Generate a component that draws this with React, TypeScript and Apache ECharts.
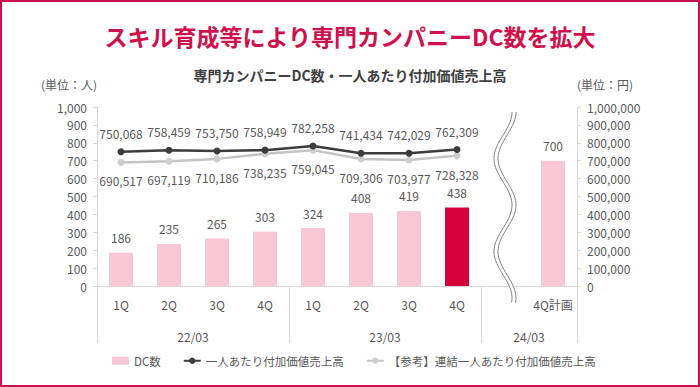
import React, { useEffect, useRef } from 'react';
import * as echarts from 'echarts';

const quarters = ['1Q', '2Q', '3Q', '4Q', '1Q', '2Q', '3Q', '4Q', '', '4Q計画'];
const fiscalYears = ['', '', '22/03', '', '', '', '23/03', '', '', '24/03', ''];
const fyBoundaries = [0, 4, 8, 10];
const dcCount: (number | null)[] = [186, 235, 265, 303, 324, 408, 419, 438, null, 700];
const highlightIndex = 7;
const breakIndex = 8;
const salesPerPerson: (number | null)[] = [750068, 758459, 753750, 758949, 782258, 741434, 742029, 762309, null, null];
const consolidatedSales: (number | null)[] = [690517, 697119, 710186, 738235, 759045, 709306, 703977, 728328, null, null];
const leftMax = 1000;
const leftInterval = 100;
const rightMax = 1000000;
const rightInterval = 100000;

const FONT = '"Noto Sans CJK JP", "Noto Sans", sans-serif';
const TXT = '#595959';
const AXIS = '#D9D9D9';
const CRIMSON = '#D0104C';

const fmt = (v: number) => v.toLocaleString('en-US');

export default function App() {
  const ref = useRef<HTMLDivElement>(null);
  useEffect(() => {
    if (!ref.current) return;
    const chart = echarts.init(ref.current, undefined, { renderer: 'svg' });
    const option: any = {
      animation: false,
      backgroundColor: '#ffffff',
      textStyle: { fontFamily: FONT },
      title: [
        {
          text: 'スキル育成等により専門カンパニーDC数を拡大',
          left: 'center',
          top: 24,
          padding: 0,
          textStyle: { color: CRIMSON, fontSize: 23, fontWeight: 'bold', fontFamily: FONT },
        },
        {
          text: '専門カンパニーDC数・一人あたり付加価値売上高',
          left: 'center',
          top: 68,
          padding: 0,
          textStyle: { color: '#404040', fontSize: 14, fontWeight: 'bold', fontFamily: FONT },
        },
      ],
      graphic: [
        {
          type: 'rect',
          shape: { x: 1, y: 1, width: 698, height: 385 },
          style: { fill: 'none', stroke: '#C8104F', lineWidth: 2 },
          silent: true,
          z: 100,
        },
      ],
      legend: {
        left: 107,
        top: 350,
        itemWidth: 17,
        itemHeight: 8,
        itemGap: 22,
        textStyle: { color: TXT, fontSize: 11.5, fontFamily: FONT },
        data: [
          { name: 'DC数', icon: 'rect' },
          { name: '一人あたり付加価値売上高' },
          { name: '【参考】連結一人あたり付加価値売上高' },
        ],
      },
      grid: { left: 97, right: 123, top: 107, bottom: 101, containLabel: false },
      xAxis: [
        {
          type: 'category',
          data: quarters,
          position: 'bottom',
          axisLine: { show: true, lineStyle: { color: AXIS } },
          axisTick: { show: false },
          axisLabel: { interval: 0, color: TXT, fontSize: 12, margin: 12, fontFamily: FONT },
        },
        {
          type: 'category',
          data: fiscalYears,
          boundaryGap: false,
          position: 'bottom',
          offset: 0,
          axisLine: { show: false },
          axisTick: {
            show: true,
            length: 57,
            interval: (i: number) => fyBoundaries.includes(i),
            lineStyle: { color: AXIS },
          },
          axisLabel: { interval: 0, color: TXT, fontSize: 12, margin: 44, fontFamily: FONT },
        },
      ],
      yAxis: [
        {
          type: 'value',
          min: 0,
          max: leftMax,
          interval: leftInterval,
          name: '(単位：人)',
          nameLocation: 'end',
          nameGap: 17,
          nameTextStyle: { color: TXT, fontSize: 12, align: 'right', fontFamily: FONT },
          axisLine: { show: true, lineStyle: { color: AXIS } },
          axisTick: { show: true, length: 4, lineStyle: { color: AXIS } },
          splitLine: { show: false },
          axisLabel: { color: TXT, fontSize: 12, margin: 10, formatter: (v: number) => fmt(v), fontFamily: FONT },
        },
        {
          type: 'value',
          min: 0,
          max: rightMax,
          interval: rightInterval,
          position: 'right',
          name: '(単位：円)',
          nameLocation: 'end',
          nameGap: 17,
          nameTextStyle: { color: TXT, fontSize: 12, align: 'left', fontFamily: FONT },
          axisLine: { show: true, lineStyle: { color: AXIS } },
          axisTick: { show: true, length: 4, lineStyle: { color: AXIS } },
          splitLine: { show: false },
          axisLabel: { color: TXT, fontSize: 12, margin: 10, formatter: (v: number) => fmt(v), fontFamily: FONT },
        },
      ],
      series: [
        {
          name: 'DC数',
          type: 'bar',
          xAxisIndex: 0,
          yAxisIndex: 0,
          barWidth: 24,
          itemStyle: { color: '#F9C8D6' },
          label: { show: true, position: 'top', distance: 9, color: TXT, fontSize: 12, fontFamily: FONT },
          data: dcCount.map((v, i) =>
            v === null ? '-' : i === highlightIndex ? { value: v, itemStyle: { color: '#D5003B' } } : v
          ),
          z: 2,
        },
        {
          name: '【参考】連結一人あたり付加価値売上高',
          type: 'line',
          xAxisIndex: 0,
          yAxisIndex: 1,
          data: consolidatedSales.map((v) => (v === null ? '-' : v)),
          symbol: 'circle',
          symbolSize: 7,
          lineStyle: { color: '#C4C4C4', width: 2.5 },
          itemStyle: { color: '#CFCFCF' },
          label: {
            show: true,
            position: 'bottom',
            distance: 9,
            color: TXT,
            fontSize: 12,
            fontFamily: FONT,
            formatter: (p: any) => fmt(p.value),
          },
          z: 3,
        },
        {
          name: '一人あたり付加価値売上高',
          type: 'line',
          xAxisIndex: 0,
          yAxisIndex: 1,
          data: salesPerPerson.map((v) => (v === null ? '-' : v)),
          symbol: 'circle',
          symbolSize: 7,
          lineStyle: { color: '#3C3C3C', width: 2.5 },
          itemStyle: { color: '#3C3C3C' },
          label: {
            show: true,
            position: 'top',
            distance: 9,
            color: TXT,
            fontSize: 12,
            fontFamily: FONT,
            formatter: (p: any) => fmt(p.value),
          },
          z: 4,
        },
        {
          name: 'break',
          type: 'custom',
          xAxisIndex: 0,
          yAxisIndex: 0,
          clip: false,
          silent: true,
          z: 5,
          data: [[breakIndex, 0]],
          encode: { x: 0, y: 1 },
          renderItem: (params: any, api: any) => {
            const base = api.coord([api.value(0), 0]);
            const cx = base[0];
            const y0 = base[1];
            const top = y0 - 174;
            const bottom = y0 + 17;
            const p1: number[][] = [];
            const p2: number[][] = [];
            for (let y = top; y <= bottom + 0.01; y += 1.5) {
              const x = cx + 9 * Math.cos((2 * Math.PI * (y - top)) / 93);
              p1.push([x - 2, y]);
              p2.push([x + 2, y]);
            }
            return {
              type: 'group',
              children: [
                {
                  type: 'polygon',
                  shape: { points: p1.concat(p2.slice().reverse()) },
                  style: { fill: '#ffffff', stroke: 'none' },
                },
                {
                  type: 'polyline',
                  shape: { points: p1 },
                  style: { stroke: '#808080', lineWidth: 1, fill: 'none' },
                },
                {
                  type: 'polyline',
                  shape: { points: p2 },
                  style: { stroke: '#808080', lineWidth: 1, fill: 'none' },
                },
              ],
            };
          },
        },
      ],
    };
    chart.setOption(option);
    return () => chart.dispose();
  }, []);
  return (
    <div
      ref={ref}
      style={{ position: 'fixed', left: 0, top: 0, width: 700, height: 387, background: '#fff' }}
    />
  );
}
